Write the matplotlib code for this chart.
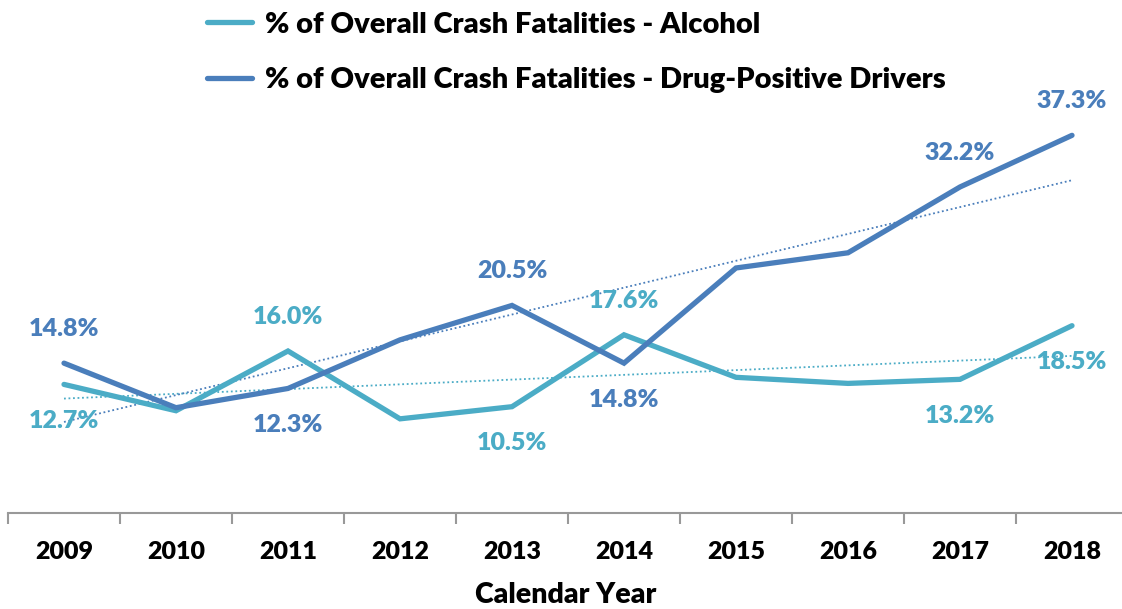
import numpy as np
import matplotlib
matplotlib.use("Agg")
import matplotlib.pyplot as plt

years = ["2009", "2010", "2011", "2012", "2013", "2014", "2015", "2016", "2017", "2018"]
alcohol = [12.7, 10.1, 16.0, 9.3, 10.5, 17.6, 13.4, 12.8, 13.2, 18.5]
drug = [14.8, 10.4, 12.3, 17.1, 20.5, 14.8, 24.2, 25.7, 32.2, 37.3]
alcohol_name = "% of Overall Crash Fatalities - Alcohol"
drug_name = "% of Overall Crash Fatalities - Drug-Positive Drivers"
# labelled points: (index, position)
alcohol_labels = [(0, "below"), (2, "above"), (4, "below"), (5, "above"), (8, "below"), (9, "below")]
drug_labels = [(0, "above"), (2, "below"), (4, "above"), (5, "below"), (8, "above"), (9, "above")]

c_alc = "#4BACC6"
c_drug = "#4A7EBB"
WT = 'heavy'

plt.rcParams['font.family'] = ['Lato', 'DejaVu Sans']
plt.rcParams['font.weight'] = WT

W, H = 1122, 609
fig = plt.figure(figsize=(W / 100, H / 100), dpi=100)
ax = fig.add_axes([8 / W, (H - 513) / H, 1120 / W, 405 / H])

x = np.arange(len(years))
la, = ax.plot(x, alcohol, color=c_alc, lw=3.8, solid_capstyle='round', solid_joinstyle='miter', label=alcohol_name, zorder=3)
ld, = ax.plot(x, drug, color=c_drug, lw=3.8, solid_capstyle='round', solid_joinstyle='miter', label=drug_name, zorder=3)

for vals, col in ((alcohol, c_alc), (drug, c_drug)):
    p = np.polyfit(x, vals, 1)
    ax.plot(x, np.polyval(p, x), color=col, lw=1.3, ls=(0, (1, 1.5)), zorder=2)

def lab(vals, items, col):
    for i, pos in items:
        dy = 24.5 if pos == "above" else -26.5
        ax.annotate(f"{vals[i]:.1f}%", (x[i], vals[i]), xytext=(0, dy), textcoords='offset points',
                    ha='center', va='center', color=col, fontsize=18, fontweight=WT, zorder=4)

lab(alcohol, alcohol_labels, c_alc)
lab(drug, drug_labels, c_drug)

ax.set_xlim(-0.5, len(years) - 0.5)
ax.set_ylim(0, 40)
for s in ('top', 'right', 'left'):
    ax.spines[s].set_visible(False)
ax.spines['bottom'].set_color('#999999')
ax.spines['bottom'].set_linewidth(1.5)
ax.set_yticks([])
ax.set_xticks(np.arange(-0.5, len(years) + 0.5, 1), minor=False)
ax.set_xticklabels([])
ax.tick_params(axis='x', which='major', length=8, width=1.5, color='#999999')
ax.set_xticks(x, minor=True)
ax.set_xticklabels(years, minor=True, fontsize=18, fontweight=WT)
ax.tick_params(axis='x', which='minor', length=0, pad=20)
ax.set_xlabel("Calendar Year", fontsize=20.5, fontweight=WT)
ax.xaxis.label.set_va('center')
ax.xaxis.set_label_coords((566 - 8) / 1120, -(595 - 513) / 405)

leg = fig.legend(handles=[la, ld], loc='upper left', bbox_to_anchor=(195 / W, 1 - 0 / H),
                 frameon=False, prop={'size': 21, 'weight': WT}, handlelength=1.55, handletextpad=0.45,
                 labelspacing=1.0, borderaxespad=0)

fig.savefig("out.png", dpi=100)
